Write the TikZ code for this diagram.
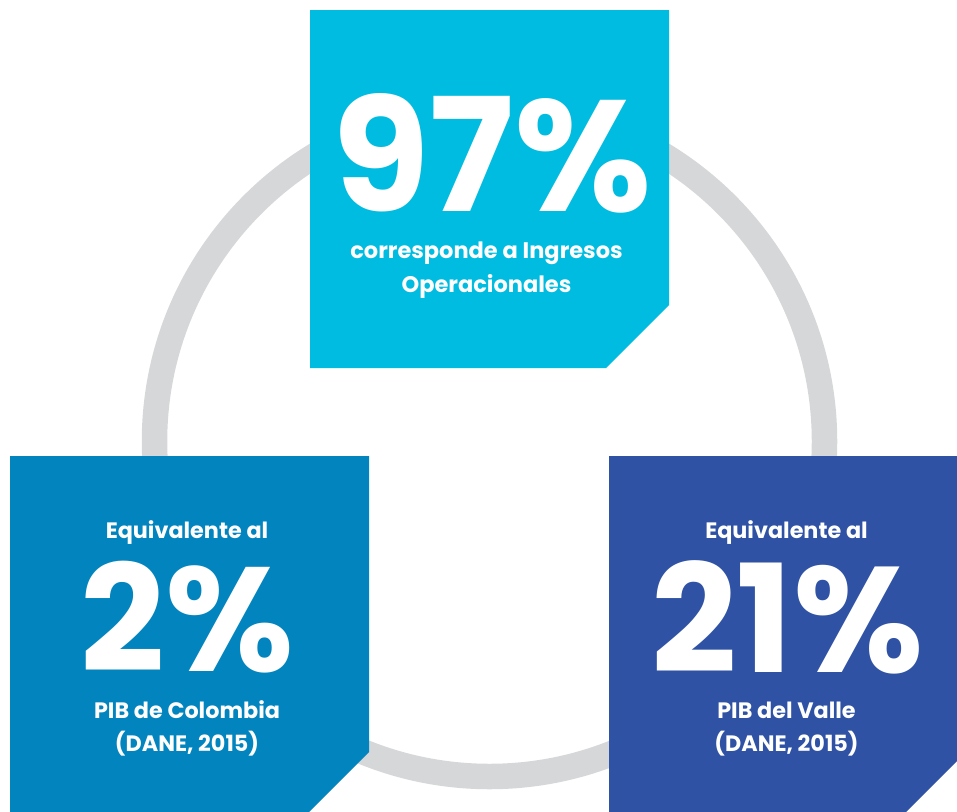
\documentclass[tikz,border=0pt]{standalone}
\usepackage{fontspec}
\setmainfont{Poppins}
\definecolor{ringgray}{RGB}{214,215,217}
\definecolor{cyanbox}{RGB}{0,188,224}
\definecolor{bluebox}{RGB}{2,132,190}
\definecolor{navybox}{RGB}{47,82,164}
\begin{document}
\begin{tikzpicture}[x=1pt,y=-1pt,
  bignum/.style={anchor=base,inner sep=0pt,text=white,text depth=0pt,font=\fontsize{158}{158}\selectfont\bfseries},
  smalltxt/.style={anchor=base,inner sep=0pt,text=white,font=\fontsize{22.5}{22.5}\selectfont\bfseries},
  lowtxt/.style={anchor=base,inner sep=0pt,text=white,font=\fontsize{22.3}{22.3}\selectfont\bfseries}]
\useasboundingbox (0,0) rectangle (957,811);
\clip (0,0) rectangle (957,811);
% ring
\coordinate (ctr) at (489.5,441.5);
\draw[ringgray,line width=25.5pt] (ctr) circle[radius=335];
% boxes
\fill[cyanbox] (310,10) -- (669,10) -- (669,305) -- (606,368) -- (310,368) -- cycle;
\fill[bluebox] (10,456) -- (369,456) -- (369,752) -- (306,815) -- (10,815) -- cycle;
\fill[navybox] (609,456) -- (967,456) -- (967,751) -- (904,814) -- (609,814) -- cycle;
% top box text
\node[bignum] (n97) at (492,211) {97\%};
\node[smalltxt] (t1) at (486.5,258) {corresponde a Ingresos};
\node[smalltxt] (t2) at (486.5,292) {Operacionales};
% left box text
\node[lowtxt] (l1) at (187,538) {Equivalente al};
\node[bignum,font=\fontsize{148}{148}\selectfont\bfseries] (n2) at (187.5,671) {2\%};
\node[lowtxt] (l2) at (187,718) {PIB de Colombia};
\node[lowtxt] (l3) at (187,751) {(DANE, 2015)};
% right box text
\node[lowtxt] (r1) at (786.5,538) {Equivalente al};
\node[bignum,font=\fontsize{150}{150}\selectfont\bfseries] (n21) at (787.5,672) {21\%};
\node[lowtxt] (r2) at (786.5,718) {PIB del Valle};
\node[lowtxt] (r3) at (786.5,751) {(DANE, 2015)};
\end{tikzpicture}
\end{document}
